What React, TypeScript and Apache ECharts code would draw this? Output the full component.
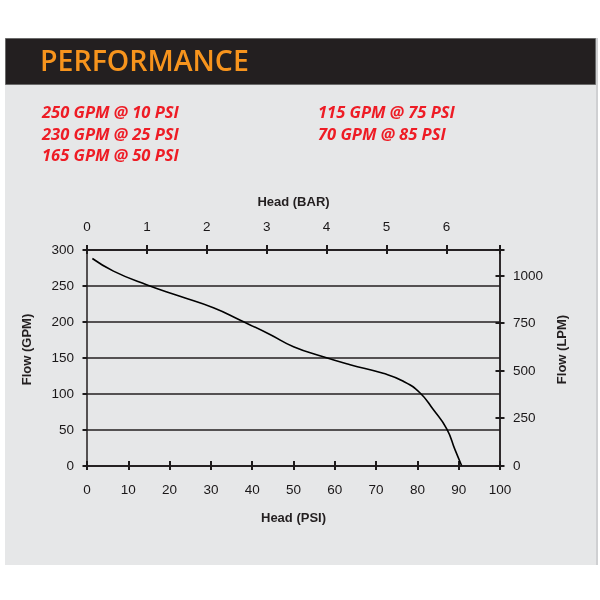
import React, { useEffect, useRef } from "react";
import * as echarts from "echarts";

// Pump curve: head (PSI) vs flow (GPM)
const headPsi = [1.3, 6.4, 14.4, 22.5, 30.6, 37, 44.3, 50, 57.2, 63.7, 71.7, 76.6, 80.6, 83.8, 87.1, 89.1, 90.7];
const flowGpm = [287.5, 270, 251, 235, 219, 202, 182, 165, 151, 140, 128, 117, 101, 78, 51, 22, 0];

const psiTicks = { min: 0, max: 100, interval: 10 };
const gpmTicks = { min: 0, max: 300, interval: 50 };
const barMax = 100 / 14.5038; // 100 PSI in BAR
const lpmMax = 300 * 3.78541; // 300 GPM in LPM

const title = "PERFORMANCE";
const ratingsLeft = ["250 GPM @ 10 PSI", "230 GPM @ 25 PSI", "165 GPM @ 50 PSI"];
const ratingsRight = ["115 GPM @ 75 PSI", "70 GPM @ 85 PSI"];

const axisNames = { bottom: "Head (PSI)", top: "Head (BAR)", left: "Flow (GPM)", right: "Flow (LPM)" };

const INK = "#231f20";
const FONT = "'Liberation Sans', Arial, sans-serif";

export default function App() {
  const ref = useRef<HTMLDivElement>(null);
  useEffect(() => {
    if (!ref.current) return;
    const chart = echarts.init(ref.current, null, { renderer: "svg" });
    const intOnly = (v: number) => (Math.abs(v - Math.round(v)) < 1e-6 ? String(Math.round(v)) : "");
    const lbl = (margin: number, extra: any = {}) => ({ color: "#1a1718", fontFamily: FONT, fontSize: 13.5, margin, ...extra });
    const nm = (extra: any = {}) => ({ color: INK, fontFamily: FONT, fontSize: 13, fontWeight: "bold", ...extra });
    const line = () => ({ show: true, onZero: false, lineStyle: { color: INK, width: 1.5 } });
    const tick = (inside: boolean) => ({ show: true, inside, length: 4.5, lineStyle: { color: "#1e1b1c", width: 2 } });
    const ratingTexts: any[] = [];
    const ratingFont = "italic bold 16.5px 'Open Sans', sans-serif";
    ratingsLeft.forEach((t, i) =>
      ratingTexts.push({ type: "text", left: 42, top: 103 + i * 21.5, style: { text: t, fill: "#ee1c25", font: ratingFont } })
    );
    ratingsRight.forEach((t, i) =>
      ratingTexts.push({ type: "text", left: 318, top: 103 + i * 21.5, style: { text: t, fill: "#ee1c25", font: ratingFont } })
    );
    chart.setOption({
      animation: false,
      graphic: [
        { type: "rect", z: -10, shape: { x: 5, y: 38, width: 592, height: 527 }, style: { fill: "#e6e7e8" } },
        { type: "rect", z: -9, shape: { x: 596, y: 38, width: 2, height: 527 }, style: { fill: "#cfd0d2" } },
        { type: "rect", z: -8, shape: { x: 5.5, y: 38.5, width: 590, height: 46 }, style: { fill: "#231f20", stroke: "#6a6a6a", lineWidth: 1 } },
        { type: "text", left: 40, top: 45.5, style: { text: title, fill: "#f7941d", font: "600 28.5px 'Open Sans', sans-serif" } },
        ...ratingTexts,
      ],
      grid: { left: 87, right: 100, top: 249.5, bottom: 134.5 },
      xAxis: [
        {
          type: "value", position: "bottom", min: psiTicks.min, max: psiTicks.max, interval: psiTicks.interval,
          name: axisNames.bottom, nameLocation: "middle", nameGap: 45, nameTextStyle: nm(),
          axisLine: line(), axisTick: tick(false), axisLabel: lbl(17), splitLine: { show: false },
        },
        {
          type: "value", position: "bottom", min: psiTicks.min, max: psiTicks.max, interval: psiTicks.interval,
          axisLine: line(), axisTick: tick(true), axisLabel: { show: false }, splitLine: { show: false },
        },
        {
          type: "value", position: "top", min: 0, max: barMax, interval: 1,
          name: axisNames.top, nameLocation: "middle", nameGap: 42, nameTextStyle: nm(),
          axisLine: line(), axisTick: tick(false), axisLabel: lbl(16, { formatter: intOnly }), splitLine: { show: false },
        },
        {
          type: "value", position: "top", min: 0, max: barMax, interval: 1,
          axisLine: line(), axisTick: tick(true), axisLabel: { show: false }, splitLine: { show: false },
        },
      ],
      yAxis: [
        {
          type: "value", position: "left", min: gpmTicks.min, max: gpmTicks.max, interval: gpmTicks.interval,
          name: axisNames.left, nameLocation: "middle", nameGap: 54, nameRotate: 90, nameTextStyle: nm({ padding: [0, 0, 0, 16] }),
          axisLine: line(), axisTick: tick(false), axisLabel: lbl(13),
          splitLine: { show: true, lineStyle: { color: INK, width: 1.5 } },
        },
        {
          type: "value", position: "right", min: 0, max: lpmMax, interval: 250,
          name: axisNames.right, nameLocation: "middle", nameGap: 55, nameRotate: 90, nameTextStyle: nm({ padding: [0, 0, 0, 16] }),
          axisLine: line(), axisTick: tick(false), axisLabel: lbl(13, { formatter: intOnly }), splitLine: { show: false },
        },
        {
          type: "value", position: "right", min: 0, max: lpmMax, interval: 250,
          axisLine: line(), axisTick: tick(true), axisLabel: { show: false }, splitLine: { show: false },
        },
      ],
      series: [
        {
          type: "line", xAxisIndex: 0, yAxisIndex: 0, smooth: 0.5, symbol: "none",
          lineStyle: { color: "#000000", width: 1.6 },
          data: headPsi.map((h, i) => [h, flowGpm[i]]),
        },
      ],
    });
    return () => chart.dispose();
  }, []);
  return <div ref={ref} style={{ position: "fixed", left: 0, top: 0, width: 600, height: 600 }} />;
}
